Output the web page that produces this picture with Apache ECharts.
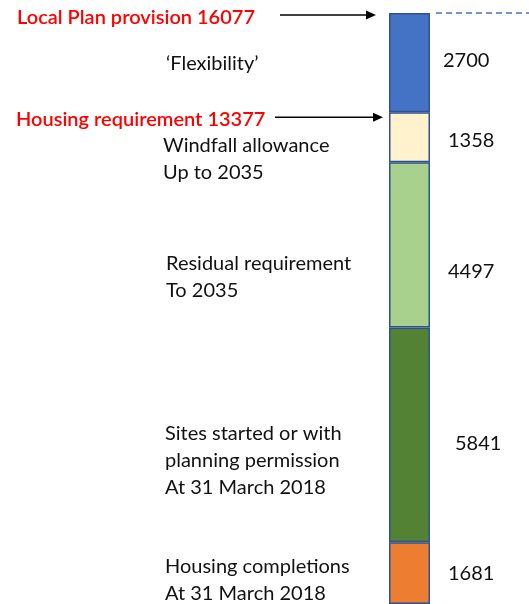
<!DOCTYPE html>
<html>
<head>
<meta charset="utf-8">
<script src="https://cdn.jsdelivr.net/npm/echarts@6/dist/echarts.min.js"></script>
<style>html,body{margin:0;padding:0;background:#fff}#c{width:529px;height:604px}</style>
</head>
<body>
<div id="c"></div>
<script>
// Data (bottom to top)
const categories = ['Housing'];
const segmentNames = ['Housing completions', 'Sites started or with planning permission', 'Residual requirement', 'Windfall allowance', 'Flexibility'];
const segmentValues = [1681, 5841, 4497, 1358, 2700];
const segmentColors = ['#ED7D31', '#548235', '#A9D18E', '#FFF2CC', '#4472C4'];
const labelOffsets = [[18, 0], [25, 9], [18, 27], [18, 3], [13, -2]];
const leftLabels = [
  'Housing completions\nAt 31 March 2018',
  'Sites started or with\nplanning permission\nAt 31 March 2018',
  'Residual requirement\nTo 2035',
  'Windfall allowance\nUp to 2035',
  '\u2018Flexibility\u2019'
];
const leftLabelY = [580, 461, 277, 159, 64];
const leftLabelX = [165, 165, 166, 163, 166];
const planProvision = 16077;
const housingRequirement = 13377;

const FONT = 'Lato';
const chart = echarts.init(document.getElementById('c'), null, {renderer: 'canvas'});
const series = segmentValues.map((v, i) => ({
  name: segmentNames[i],
  type: 'bar',
  stack: 'total',
  barWidth: '100%',
  data: [{
    value: v,
    label: {
      show: true,
      position: 'right',
      distance: labelOffsets[i][0],
      offset: [0, labelOffsets[i][1]],
      formatter: '{c}',
      color: '#111',
      fontFamily: FONT,
      fontSize: 20
    }
  }],
  itemStyle: {color: segmentColors[i], borderColor: '#2F528F', borderWidth: 1.5},
  silent: true
}));
chart.setOption({
  animation: false,
  grid: {left: 389, right: 99, top: 13, bottom: -4},
  xAxis: {type: 'category', data: categories, show: false},
  yAxis: {type: 'value', min: 0, max: planProvision, show: false, splitLine: {show: false}},
  series: series
});

const yTop = chart.convertToPixel({yAxisIndex: 0}, planProvision);
const yReq = chart.convertToPixel({yAxisIndex: 0}, housingRequirement);
const arrow = (x1, x2, y) => [
  {type: 'line', shape: {x1: x1, y1: y, x2: x2 - 8, y2: y}, style: {stroke: '#000', lineWidth: 1.5}},
  {type: 'polygon', shape: {points: [[x2, y], [x2 - 10, y - 4.5], [x2 - 10, y + 4.5]]}, style: {fill: '#000'}}
];
const graphics = [
  {type: 'text', left: 17, top: yTop - 5, style: {text: 'Local Plan provision ' + planProvision, fill: '#FF0000', font: '600 20px ' + FONT, textVerticalAlign: 'middle'}},
  {type: 'text', left: 16, top: yReq - 3, style: {text: 'Housing requirement ' + housingRequirement, fill: '#FF0000', font: '600 20px ' + FONT, textVerticalAlign: 'middle'}},
  ...arrow(280, 376, yTop + 2),
  ...arrow(275, 383, yReq + 5),
  {type: 'line', shape: {x1: 436, y1: yTop, x2: 529, y2: yTop}, style: {stroke: '#4472C4', lineWidth: 1.5, lineDash: [6, 4]}}
];
leftLabels.forEach((t, i) => {
  graphics.push({type: 'text', x: leftLabelX[i], y: leftLabelY[i], style: {text: t, fill: '#111', font: '20px ' + FONT, lineHeight: 27, textVerticalAlign: 'middle'}});
});
chart.setOption({graphic: {elements: graphics}});
</script>
</body>
</html>
